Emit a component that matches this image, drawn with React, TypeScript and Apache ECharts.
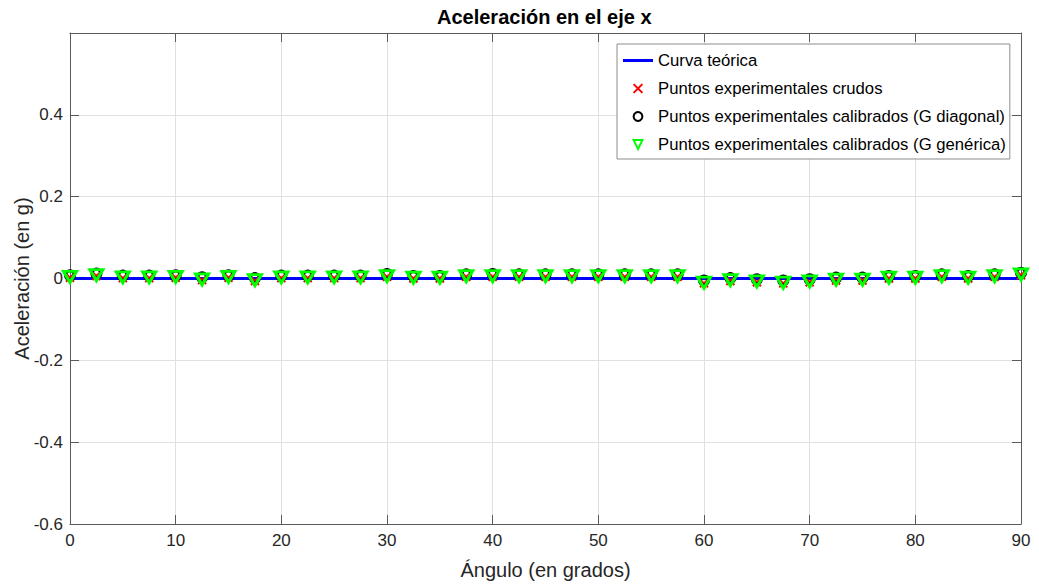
import React, { useEffect, useRef } from "react";
import * as echarts from "echarts";

const angles = [0, 2.5, 5, 7.5, 10, 12.5, 15, 17.5, 20, 22.5, 25, 27.5, 30, 32.5, 35, 37.5, 40, 42.5, 45, 47.5, 50, 52.5, 55, 57.5, 60, 62.5, 65, 67.5, 70, 72.5, 75, 77.5, 80, 82.5, 85, 87.5, 90];

const theoretical = [0, 0, 0, 0, 0, 0, 0, 0, 0, 0, 0, 0, 0, 0, 0, 0, 0, 0, 0, 0, 0, 0, 0, 0, 0, 0, 0, 0, 0, 0, 0, 0, 0, 0, 0, 0, 0];

const rawPoints = [0.002, 0.006, 0.001, 0.001, 0.002, -0.004, 0.002, -0.006, 0.001, 0.001, 0.001, 0.001, 0.004, 0.0, 0.0, 0.004, 0.004, 0.004, 0.004, 0.004, 0.004, 0.004, 0.004, 0.004, -0.012, -0.006, -0.009, -0.012, -0.009, -0.005, -0.005, 0.0, 0.0, 0.004, 0.0, 0.004, 0.008];

const calibDiagonal = [0.008, 0.012, 0.007, 0.007, 0.008, 0.003, 0.008, 0.001, 0.007, 0.007, 0.007, 0.007, 0.011, 0.006, 0.006, 0.010, 0.011, 0.010, 0.010, 0.010, 0.010, 0.010, 0.010, 0.010, -0.005, 0.001, -0.002, -0.005, -0.002, 0.002, 0.002, 0.006, 0.006, 0.010, 0.006, 0.010, 0.014];

const calibGeneric = [0.004, 0.008, 0.003, 0.003, 0.004, -0.002, 0.004, -0.004, 0.003, 0.003, 0.003, 0.003, 0.006, 0.002, 0.002, 0.006, 0.006, 0.006, 0.006, 0.006, 0.006, 0.006, 0.006, 0.006, -0.010, -0.004, -0.007, -0.010, -0.007, -0.003, -0.003, 0.002, 0.002, 0.006, 0.002, 0.006, 0.010];

const seriesNames = [
  "Curva teórica",
  "Puntos experimentales crudos",
  "Puntos experimentales calibrados (G diagonal)",
  "Puntos experimentales calibrados (G genérica)",
];

const xTicks = { min: 0, max: 90, interval: 10 };
const yTicks = { min: -0.6, max: 0.6, interval: 0.2 };

const FONT = "'Liberation Sans', Arial, Helvetica, sans-serif";
const AX = "#262626";
const AXLINE = "#5a5a5a";
const GRID = "#e0e0e0";

const pair = (ys: number[]) => angles.map((a, i) => [a, ys[i]]);

export default function App() {
  const ref = useRef<HTMLDivElement>(null);
  useEffect(() => {
    if (!ref.current) return;
    const chart = echarts.init(ref.current, undefined, { renderer: "svg" });
    const grid = { left: 70, right: 18, top: 33, height: 491, containLabel: false, outerBoundsMode: "none" };
    const yFmt = (v: number) => {
      const r = Math.round(v * 10) / 10;
      if (Math.abs(r - 0.6) < 1e-9) return "";
      if (r === 0) return "0";
      return r.toFixed(1);
    };
    chart.setOption({
      animation: false,
      backgroundColor: "#ffffff",
      title: {
        text: "Aceleración en el eje x",
        left: 437,
        top: 7,
        padding: 0,
        textStyle: { fontFamily: FONT, fontSize: 20, fontWeight: "bold", color: "#000" },
      },
      grid,
      legend: {
        orient: "vertical",
        left: 617,
        top: 44,
        padding: [8, 4, 6, 6],
        itemWidth: 30,
        itemHeight: 11,
        itemGap: 11,
        borderColor: "#8c8c8c",
        borderWidth: 1,
        backgroundColor: "#ffffff",
        selectedMode: false,
        textStyle: { fontFamily: FONT, fontSize: 16.7, color: "#000" },
        data: [
          { name: seriesNames[0], icon: "path://M0,0H30V3H0Z" },
          { name: seriesNames[1] },
          { name: seriesNames[2] },
          { name: seriesNames[3] },
        ],
      },
      xAxis: [
        {
          type: "value",
          min: xTicks.min,
          max: xTicks.max,
          interval: xTicks.interval,
          name: "Ángulo (en grados)",
          nameLocation: "middle",
          nameGap: 36,
          nameMoveOverlap: false,
          nameTextStyle: { fontFamily: FONT, fontSize: 20, color: AX },
          axisLine: { show: true, onZero: false, lineStyle: { color: AXLINE, width: 1 } },
          axisTick: { show: true, inside: true, length: 9, lineStyle: { color: AXLINE } },
          axisLabel: { fontFamily: FONT, fontSize: 17, color: AX, margin: 8 },
          splitLine: { show: true, lineStyle: { color: GRID, width: 1 } },
        },
        {
          type: "value",
          position: "top",
          min: xTicks.min,
          max: xTicks.max,
          interval: xTicks.interval,
          axisLine: { show: true, onZero: false, lineStyle: { color: AXLINE, width: 1 } },
          axisTick: { show: true, inside: true, length: 9, lineStyle: { color: AXLINE } },
          axisLabel: { show: false },
          splitLine: { show: false },
        },
      ],
      yAxis: [
        {
          type: "value",
          min: yTicks.min,
          max: yTicks.max,
          interval: yTicks.interval,
          name: "Aceleración (en g)",
          nameLocation: "middle",
          nameGap: 38,
          nameMoveOverlap: false,
          nameTextStyle: { fontFamily: FONT, fontSize: 20, color: AX },
          axisLine: { show: true, onZero: false, lineStyle: { color: AXLINE, width: 1 } },
          axisTick: { show: true, inside: true, length: 9, lineStyle: { color: AXLINE } },
          axisLabel: { fontFamily: FONT, fontSize: 17, color: AX, margin: 7, formatter: yFmt },
          splitLine: { show: true, lineStyle: { color: GRID, width: 1 } },
        },
        {
          type: "value",
          position: "right",
          min: yTicks.min,
          max: yTicks.max,
          interval: yTicks.interval,
          axisLine: { show: true, onZero: false, lineStyle: { color: AXLINE, width: 1 } },
          axisTick: { show: true, inside: true, length: 9, lineStyle: { color: AXLINE } },
          axisLabel: { show: false },
          splitLine: { show: false },
        },
      ],
      series: [
        {
          name: seriesNames[0],
          type: "line",
          data: pair(theoretical),
          symbol: "none",
          silent: true,
          z: 2,
          lineStyle: { color: "#0000ff", width: 3 },
          itemStyle: { color: "#0000ff" },
        },
        {
          name: seriesNames[1],
          type: "line",
          data: pair(rawPoints),
          symbol: "path://M0,0L10,10M10,0L0,10",
          symbolSize: 8,
          silent: true,
          z: 3,
          lineStyle: { width: 0, opacity: 0 },
          itemStyle: { color: "rgba(0,0,0,0)", borderColor: "#ff0000", borderWidth: 2 },
        },
        {
          name: seriesNames[2],
          type: "line",
          data: pair(calibDiagonal),
          symbol: "circle",
          symbolSize: 9,
          silent: true,
          z: 4,
          lineStyle: { width: 0, opacity: 0 },
          itemStyle: { color: "rgba(0,0,0,0)", borderColor: "#000000", borderWidth: 3 },
        },
        {
          name: seriesNames[3],
          type: "line",
          data: pair(calibGeneric),
          symbol: "triangle",
          symbolRotate: 180,
          symbolSize: [13, 11],
          silent: true,
          z: 5,
          lineStyle: { width: 0, opacity: 0 },
          itemStyle: { color: "rgba(0,0,0,0)", borderColor: "#00ff00", borderWidth: 3 },
        },
      ],
    });
    return () => chart.dispose();
  }, []);
  return (
    <div
      ref={ref}
      style={{ position: "fixed", left: 0, top: 0, width: 1039, height: 585, background: "#fff" }}
    />
  );
}
